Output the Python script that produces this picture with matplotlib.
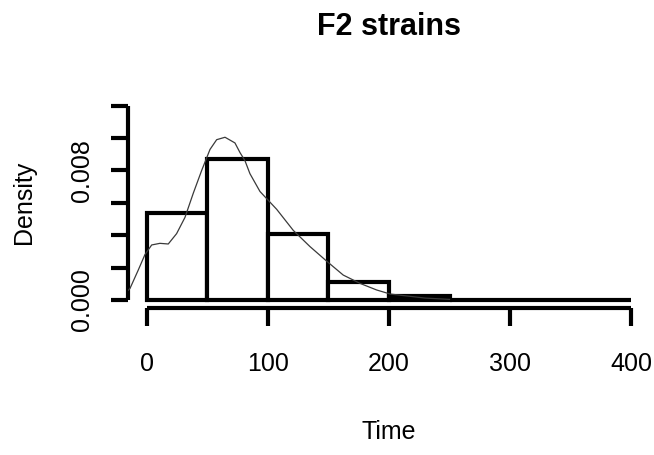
import matplotlib
matplotlib.use("Agg")
import matplotlib.pyplot as plt
import numpy as np

plt.rcParams["font.family"] = ["Liberation Sans", "DejaVu Sans"]

# histogram bins (Time) and densities
bin_edges = [0, 50, 100, 150, 200, 250, 300, 350, 400]
bin_density = [0.0054, 0.0087, 0.0041, 0.00113, 0.00025, 0.0, 0.0, 0.0]

# kernel density curve
kde_x = [-15.5, -14, -7.2, -1.7, 3.9, 10.7, 17.6, 24.5, 31.4, 38.3, 45.2,
         52.1, 57.6, 64.5, 72.7, 76.9, 81, 85.1, 93.4, 107.2, 120.9, 134.7,
         148.5, 162.2, 176, 189.8, 201, 214.8, 230, 250]
kde_y = [0.0006, 0.00072, 0.00185, 0.0028, 0.0034, 0.0035, 0.00346, 0.0041,
         0.0051, 0.0066, 0.0080, 0.0093, 0.0099, 0.01005, 0.0097, 0.0091,
         0.0086, 0.0078, 0.0067, 0.0056, 0.0043, 0.0033, 0.0024, 0.00154,
         0.00103, 0.00062, 0.00037, 0.00025, 0.00012, 0.00004]

y_ticks = [0.0, 0.002, 0.004, 0.006, 0.008, 0.010, 0.012]
y_tick_labels = ["0.000", "", "", "", "0.008", "", ""]
x_ticks = [0, 100, 200, 300, 400]

W, H = 654, 455
fig = plt.figure(figsize=(W / 100, H / 100), dpi=100)
# plot region in pixels (R style, 4% axis padding)
left, right, top, bottom = 127.6, 650.4, 97.9, 307.8
ax = fig.add_axes([left / W, 1 - bottom / H, (right - left) / W, (bottom - top) / H])

lw = 3.0
widths = np.diff(bin_edges)
ax.bar(bin_edges[:-1], bin_density, width=widths, align="edge",
       facecolor="white", edgecolor="black", linewidth=lw, zorder=2)
ax.plot(kde_x, kde_y, color="#3a3a3a", linewidth=0.9, zorder=3,
        solid_joinstyle="round")

ax.set_xlim(-16, 416)
ax.set_ylim(-0.00048, 0.01248)

for s in ("top", "right"):
    ax.spines[s].set_visible(False)
ax.spines["left"].set_bounds(0, 0.012)
ax.spines["bottom"].set_bounds(0, 400)
for s in ("left", "bottom"):
    ax.spines[s].set_linewidth(lw)
    ax.spines[s].set_capstyle("butt")

ax.set_xticks(x_ticks)
ax.set_xticklabels([str(v) for v in x_ticks])
ax.set_yticks(y_ticks)
ax.set_yticklabels(y_tick_labels, rotation=90, va="center")
ax.tick_params(axis="x", length=13, width=lw, pad=19, labelsize=18)
ax.tick_params(axis="y", length=12, width=lw, pad=12, labelsize=18)

ax.set_xlabel("Time", fontsize=18)
ax.xaxis.set_label_coords(0.5, -0.535)
ax.set_ylabel("Density", fontsize=18)
ax.yaxis.set_label_coords(-0.175, 0.5)

fig.text((left + right) / 2 / W, 1 - 27 / H, "F2 strains", ha="center",
         va="center", fontsize=22, fontweight="bold")

fig.savefig("out.png", dpi=100)
